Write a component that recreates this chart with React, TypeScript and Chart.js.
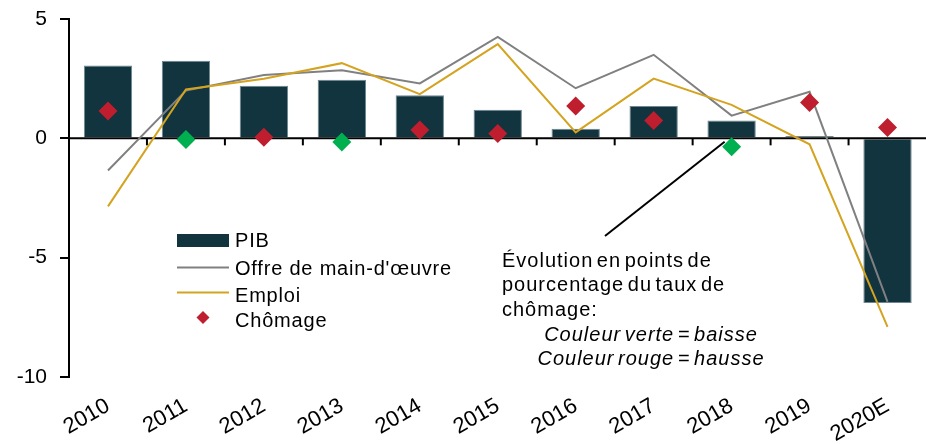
import React, { useEffect, useRef } from 'react';
import { Chart, registerables } from 'chart.js';

Chart.register(...registerables);

const CATEGORIES = ['2010', '2011', '2012', '2013', '2014', '2015', '2016', '2017', '2018', '2019', '2020E'];
const PIB = [3.05, 3.25, 2.2, 2.45, 1.8, 1.2, 0.4, 1.35, 0.75, 0.1, -6.9];
const OFFRE = [-1.35, 2.0, 2.65, 2.85, 2.3, 4.25, 2.1, 3.5, 0.95, 1.95, -6.85];
const EMPLOI = [-2.85, 2.05, 2.5, 3.15, 1.85, 3.95, 0.25, 2.5, 1.4, -0.25, -7.9];
const CHOMAGE = [1.15, -0.05, 0.05, -0.15, 0.35, 0.2, 1.35, 0.75, -0.35, 1.5, 0.45];
const Y_TICKS = [-10, -5, 0, 5];
const LEGEND_LABELS = ['PIB', "Offre de main-d'œuvre", 'Emploi', 'Chômage'];
const NOTE_LINES = ['Évolution en points de', 'pourcentage du taux de', 'chômage:'];
const NOTE_ITALIC = ['Couleur verte = baisse', 'Couleur rouge = hausse'];

const FONT = "'Liberation Sans', Arial, sans-serif";
const C_BAR = '#12343f';
const C_GRAY = '#808080';
const C_GOLD = '#d4a31f';
const C_RED = '#be1e2d';
const C_GREEN = '#00b050';

const overlay = {
  id: 'overlay',
  afterDatasetDraw(chart: any, args: any) {
    if (args.index !== 0) return;
    const { ctx, chartArea, scales } = chart;
    const x = scales.x;
    const y = scales.y;
    const y0 = y.getPixelForValue(0);
    ctx.save();
    ctx.strokeStyle = '#000';
    ctx.lineWidth = 2;
    ctx.beginPath();
    ctx.moveTo(chartArea.left, y0);
    ctx.lineTo(chart.width, y0);
    ctx.stroke();
    for (let i = 0; i < CATEGORIES.length - 1; i++) {
      const bx = (x.getPixelForValue(i) + x.getPixelForValue(i + 1)) / 2;
      ctx.beginPath();
      ctx.moveTo(bx, y0);
      ctx.lineTo(bx, y0 + 7);
      ctx.stroke();
    }
    const ex = x.getPixelForValue(8) - 7;
    const ey = y.getPixelForValue(CHOMAGE[8]) - 5;
    ctx.beginPath();
    ctx.moveTo(605, 236);
    ctx.lineTo(ex, ey);
    ctx.stroke();
    ctx.restore();
  },
  afterDraw(chart: any) {
    const { ctx } = chart;
    ctx.save();
    const lx = 177;
    const lw = 52;
    ctx.fillStyle = C_BAR;
    ctx.fillRect(lx, 234, lw, 13);
    ctx.lineWidth = 2;
    ctx.strokeStyle = C_GRAY;
    ctx.beginPath();
    ctx.moveTo(lx, 267.5);
    ctx.lineTo(lx + lw, 267.5);
    ctx.stroke();
    ctx.strokeStyle = C_GOLD;
    ctx.beginPath();
    ctx.moveTo(lx, 292.5);
    ctx.lineTo(lx + lw, 292.5);
    ctx.stroke();
    ctx.fillStyle = C_RED;
    const dx = lx + 26;
    const dy = 317.5;
    const r = 6.5;
    ctx.beginPath();
    ctx.moveTo(dx, dy - r);
    ctx.lineTo(dx + r, dy);
    ctx.lineTo(dx, dy + r);
    ctx.lineTo(dx - r, dy);
    ctx.closePath();
    ctx.fill();

    ctx.fillStyle = '#000';
    ctx.font = `20px ${FONT}`;
    ctx.textAlign = 'left';
    ctx.textBaseline = 'alphabetic';
    (ctx as any).letterSpacing = '0.8px';
    const legendBase = [247, 275, 301.5, 326.5];
    LEGEND_LABELS.forEach((t, i) => ctx.fillText(t, 235, legendBase[i]));

    (ctx as any).letterSpacing = '1px';
    (ctx as any).wordSpacing = '-3px';
    const noteBase = [266.5, 291, 315.5];
    NOTE_LINES.forEach((t, i) => ctx.fillText(t, 502, noteBase[i]));
    ctx.font = `italic 20px ${FONT}`;
    ctx.textAlign = 'center';
    const italBase = [340.5, 364.5];
    NOTE_ITALIC.forEach((t, i) => ctx.fillText(t, 651, italBase[i]));
    ctx.restore();
  },
};

export default function App() {
  const ref = useRef<HTMLCanvasElement>(null);
  useEffect(() => {
    const canvas = ref.current;
    if (!canvas) return;
    const chart = new Chart(canvas, {
      type: 'bar',
      data: {
        labels: CATEGORIES,
        datasets: [
          {
            type: 'bar',
            label: 'PIB',
            data: PIB,
            backgroundColor: C_BAR,
            borderColor: '#6e8790',
            borderWidth: 1,
            barPercentage: 0.62,
            categoryPercentage: 1,
            order: 3,
          },
          {
            type: 'line',
            label: "Offre de main-d'œuvre",
            data: OFFRE,
            borderColor: C_GRAY,
            borderWidth: 2,
            pointRadius: 0,
            tension: 0,
            order: 2,
          },
          {
            type: 'line',
            label: 'Emploi',
            data: EMPLOI,
            borderColor: C_GOLD,
            borderWidth: 2,
            pointRadius: 0,
            tension: 0,
            order: 1,
          },
          {
            type: 'line',
            label: 'Chômage',
            data: CHOMAGE,
            showLine: false,
            pointStyle: 'rectRot',
            pointRadius: 9.5,
            pointHoverRadius: 9.5,
            pointBorderWidth: 0,
            pointBackgroundColor: CHOMAGE.map((v) => (v < 0 ? C_GREEN : C_RED)),
            order: 0,
          },
        ] as any,
      },
      options: {
        responsive: false,
        animation: false,
        events: [],
        layout: { padding: { top: 19, left: 0, right: 0, bottom: 0 } },
        plugins: { legend: { display: false }, tooltip: { enabled: false } },
        scales: {
          x: {
            offset: true,
            grid: { display: false, drawTicks: false },
            border: { display: false },
            ticks: {
              minRotation: 30,
              maxRotation: 30,
              autoSkip: false,
              padding: 16,
              color: '#000',
              font: { family: FONT, size: 22 },
            },
            afterFit(scale: any) {
              scale.height = 67;
            },
          },
          y: {
            min: -10,
            max: 5,
            afterBuildTicks(scale: any) {
              scale.ticks = Y_TICKS.map((v) => ({ value: v }));
            },
            grid: { drawOnChartArea: false, color: '#000', lineWidth: 2, tickLength: 9 },
            border: { color: '#000', width: 2 },
            ticks: {
              padding: 13,
              color: '#000',
              font: { family: FONT, size: 21 },
            },
            afterFit(scale: any) {
              scale.width = 69;
              scale.paddingTop = 5;
              scale.paddingBottom = 5;
            },
          },
        },
      },
      plugins: [overlay],
    });
    return () => chart.destroy();
  }, []);
  return (
    <div
      style={{
        position: 'fixed',
        left: 0,
        top: 0,
        width: 926,
        height: 444,
        overflow: 'hidden',
        background: '#fff',
      }}
    >
      <canvas ref={ref} width={936} height={444} style={{ display: 'block', width: 936, height: 444 }} />
    </div>
  );
}
